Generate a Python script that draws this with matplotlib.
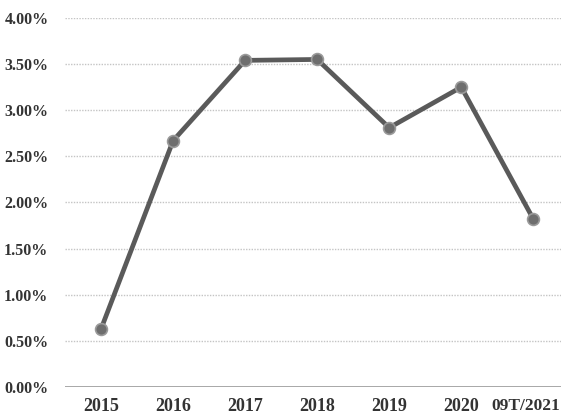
import matplotlib.pyplot as plt
import matplotlib.transforms as mtransforms
from matplotlib.ticker import FuncFormatter

# --- Dane ---
years = ["2015", "2016", "2017", "2018", "2019", "2020", "09T/2021"]
rates = [0.63, 2.67, 3.54, 3.55, 2.81, 3.25, 1.82]
y_ticks = [0.0, 0.5, 1.0, 1.5, 2.0, 2.5, 3.0, 3.5, 4.0]

plt.rcParams['font.family'] = ['Liberation Serif', 'DejaVu Serif']

fig = plt.figure(figsize=(5.61, 4.17), dpi=100)
ax = fig.add_axes([0.116, 0.072, 0.895, 0.885])

x = list(range(len(years)))
ax.plot(x, rates, color="#5a5a5a", linewidth=3.4, solid_capstyle="round",
        marker="o", markersize=8.5, markerfacecolor="#6e6e6e",
        markeredgecolor="#9a9a9a", markeredgewidth=1.2, zorder=3)

ax.set_ylim(0, 4.0)
ax.set_xlim(-0.5, 6.47)
ax.set_yticks(y_ticks)
ax.yaxis.set_major_formatter(FuncFormatter(lambda v, p: f"{v:.2f}%"))
ax.set_xticks(x)
ax.set_xticklabels(years)

for t in y_ticks[1:]:
    ax.axhline(t, color="#c4c4c4", linestyle=(0, (1, 1)), linewidth=1.0, zorder=1)
ax.axhline(0, color="#9a9a9a", linewidth=1.2, zorder=2)

for s in ax.spines.values():
    s.set_visible(False)
ax.tick_params(length=0, colors="#333333")
ax.tick_params(axis="x", labelsize=13, pad=8)
ax.tick_params(axis="y", labelsize=11.5, pad=12)
for lab in ax.get_xticklabels() + ax.get_yticklabels():
    lab.set_fontweight("bold")

# ostatnia etykieta przesunięta w lewo, żeby się zmieściła
last = ax.get_xticklabels()[-1]
last.set_fontsize(12.5)
last.set_transform(last.get_transform() + mtransforms.ScaledTranslation(-8 / 100, 0, fig.dpi_scale_trans))

fig.savefig("out.png", dpi=100)
